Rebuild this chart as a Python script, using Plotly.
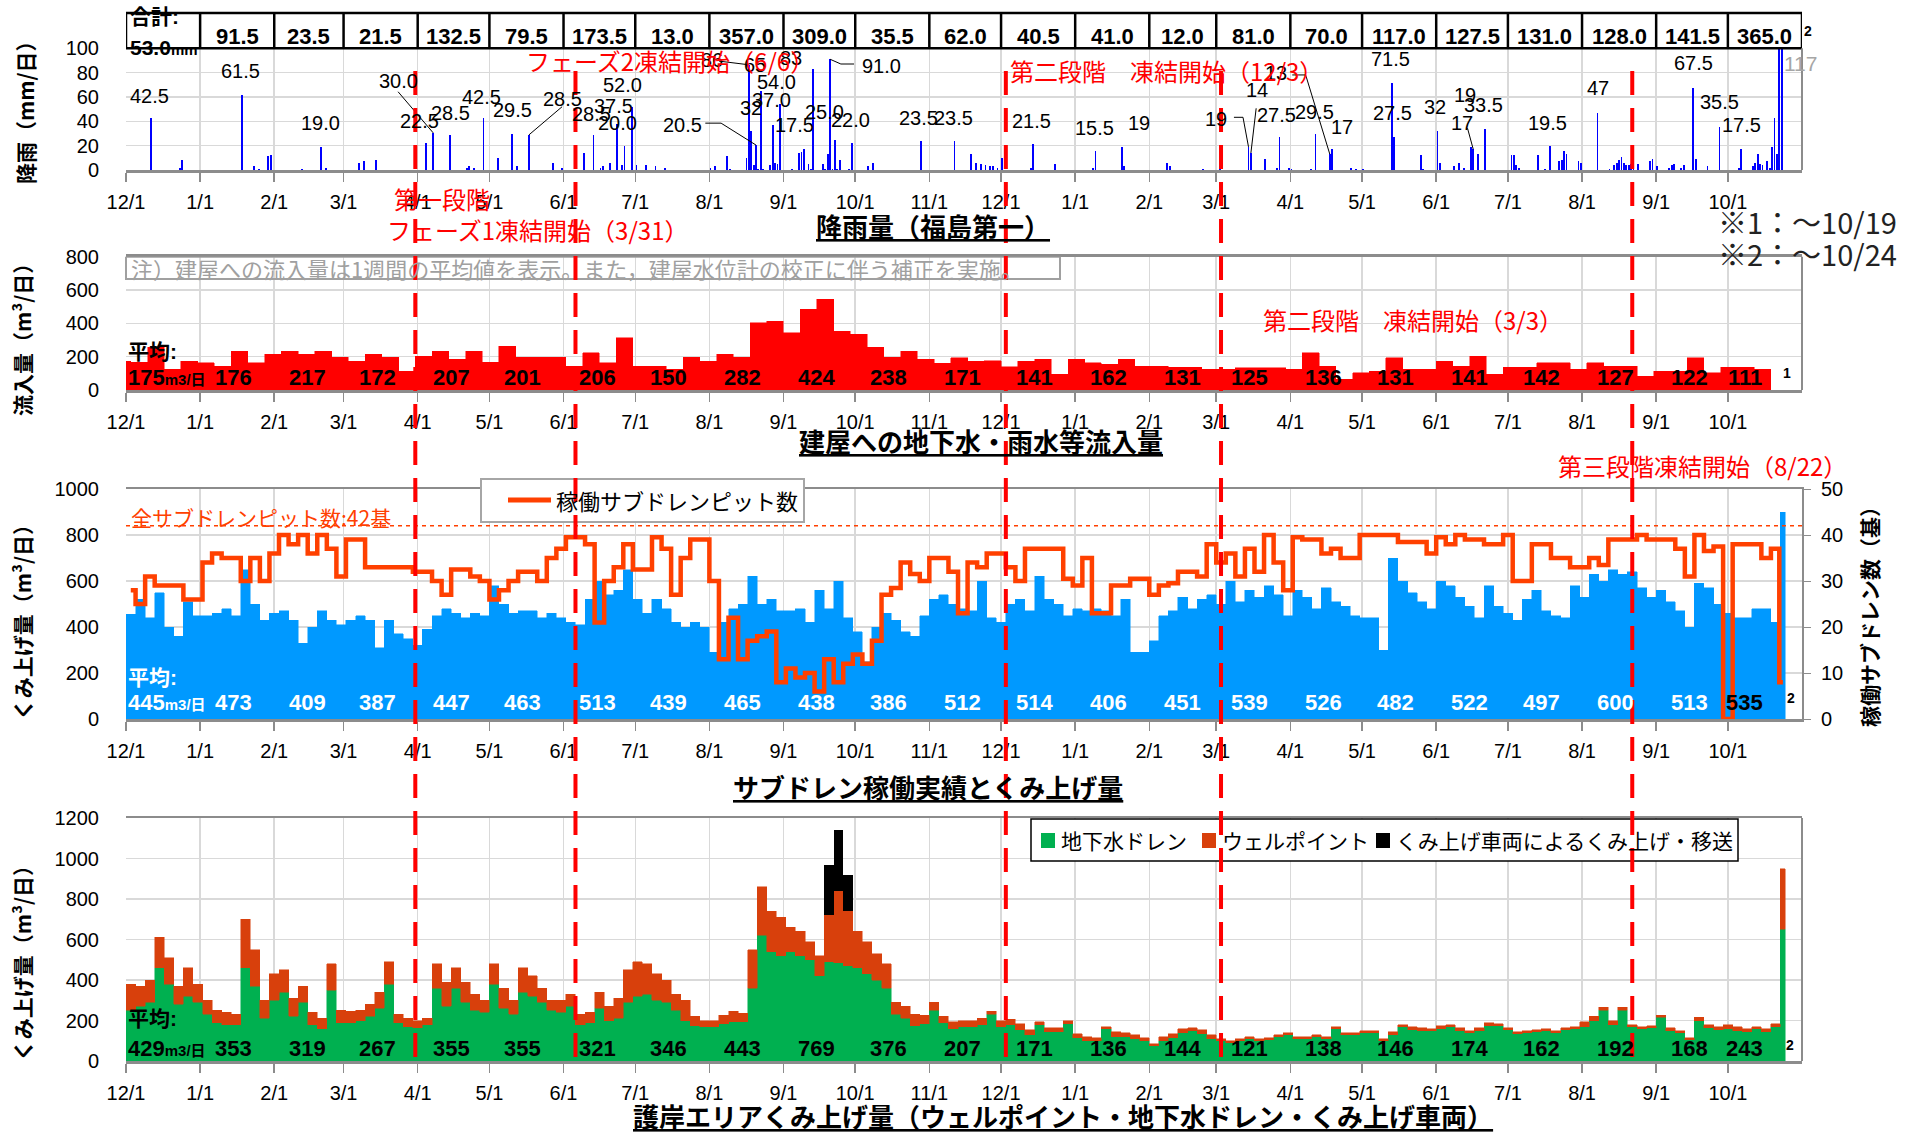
import pandas as pd
import plotly.graph_objects as go

W, H = 1923, 1135
DAY_MS = 86_400_000
JP = "Noto Sans CJK JP"
NUM = "Liberation Sans, Noto Sans CJK JP"
AXIS_START, AXIS_END = "2015-12-01", "2017-11-01"

# ---------------- daily rainfall, Fukushima Daiichi (mm/day) ----------------
rain_daily = [
    ("2015-12-11", 42.5), ("2015-12-23", 2), ("2015-12-24", 8),
    ("2016-01-18", 61.5), ("2016-01-23", 3.5), ("2016-01-25", 1), ("2016-01-29", 11.5), ("2016-01-30", 12.5),
    ("2016-02-12", 1), ("2016-02-20", 19.0), ("2016-02-22", 2),
    ("2016-03-07", 6), ("2016-03-09", 7.5), ("2016-03-14", 8),
    ("2016-04-04", 22.5), ("2016-04-07", 30.0), ("2016-04-14", 28.5), ("2016-04-21", 2), ("2016-04-22", 3),
    ("2016-04-24", 2), ("2016-04-28", 42.5),
    ("2016-05-04", 9.5), ("2016-05-10", 29.5), ("2016-05-12", 3), ("2016-05-17", 28.5), ("2016-05-27", 5.5),
    ("2016-05-31", 2),
    ("2016-06-09", 14), ("2016-06-13", 28.5), ("2016-06-16", 2), ("2016-06-17", 3), ("2016-06-20", 5.5),
    ("2016-06-23", 37.5), ("2016-06-25", 4), ("2016-06-26", 20.0), ("2016-06-29", 52.0),
    ("2016-07-01", 4), ("2016-07-05", 4), ("2016-07-09", 3), ("2016-07-13", 2),
    ("2016-08-01", 2), ("2016-08-03", 3), ("2016-08-08", 11.5), ("2016-08-09", 1), ("2016-08-16", 10),
    ("2016-08-17", 86), ("2016-08-18", 32), ("2016-08-19", 4), ("2016-08-20", 20.5), ("2016-08-21", 1),
    ("2016-08-22", 65), ("2016-08-23", 1), ("2016-08-26", 4), ("2016-08-27", 37.0), ("2016-08-28", 6),
    ("2016-08-29", 5), ("2016-08-30", 54.0),
    ("2016-09-04", 1), ("2016-09-07", 14), ("2016-09-08", 15), ("2016-09-09", 17.5), ("2016-09-11", 5),
    ("2016-09-12", 1), ("2016-09-13", 83), ("2016-09-17", 5), ("2016-09-18", 1), ("2016-09-19", 13),
    ("2016-09-20", 91.0), ("2016-09-21", 1), ("2016-09-22", 25.0), ("2016-09-23", 1), ("2016-09-24", 8),
    ("2016-09-28", 1), ("2016-09-29", 22.0),
    ("2016-10-06", 3), ("2016-10-08", 6), ("2016-10-28", 23.5),
    ("2016-11-11", 23.5), ("2016-11-18", 13.5), ("2016-11-20", 6), ("2016-11-22", 5), ("2016-11-24", 4),
    ("2016-11-26", 3), ("2016-11-27", 3), ("2016-11-29", 2),
    ("2016-12-01", 9.5), ("2016-12-13", 2), ("2016-12-14", 21.5), ("2016-12-23", 5),
    ("2017-01-08", 2), ("2017-01-09", 15.5), ("2017-01-20", 19), ("2017-01-21", 3),
    ("2017-02-08", 6), ("2017-02-09", 3), ("2017-02-23", 1),
    ("2017-03-02", 3), ("2017-03-14", 19), ("2017-03-15", 14), ("2017-03-21", 9), ("2017-03-26", 2),
    ("2017-03-27", 27.5), ("2017-03-31", 1.5),
    ("2017-04-01", 1), ("2017-04-09", 1), ("2017-04-11", 29.5), ("2017-04-17", 13), ("2017-04-18", 17),
    ("2017-04-26", 2), ("2017-04-28", 1),
    ("2017-05-01", 1), ("2017-05-13", 71.5), ("2017-05-14", 27.5), ("2017-05-25", 12), ("2017-05-26", 1),
    ("2017-06-01", 32), ("2017-06-02", 6), ("2017-06-08", 3), ("2017-06-10", 5.5), ("2017-06-12", 2),
    ("2017-06-15", 19), ("2017-06-16", 17), ("2017-06-18", 13.5), ("2017-06-21", 33.5),
    ("2017-07-02", 12), ("2017-07-03", 12), ("2017-07-04", 4), ("2017-07-05", 2), ("2017-07-13", 12),
    ("2017-07-16", 1), ("2017-07-18", 19.5), ("2017-07-22", 7), ("2017-07-23", 8), ("2017-07-24", 16),
    ("2017-07-25", 13), ("2017-07-30", 7), ("2017-07-31", 6),
    ("2017-08-07", 47), ("2017-08-12", 1), ("2017-08-14", 4), ("2017-08-15", 6), ("2017-08-16", 8),
    ("2017-08-17", 11), ("2017-08-18", 6), ("2017-08-19", 4), ("2017-08-20", 4), ("2017-08-21", 5),
    ("2017-08-22", 5), ("2017-08-24", 5), ("2017-08-29", 7), ("2017-08-30", 9),
    ("2017-09-01", 3.5), ("2017-09-06", 2), ("2017-09-07", 4), ("2017-09-08", 5), ("2017-09-11", 2),
    ("2017-09-12", 4.5), ("2017-09-16", 67.5), ("2017-09-17", 9), ("2017-09-22", 3.5), ("2017-09-27", 35.5),
    ("2017-10-05", 1.5), ("2017-10-06", 17.5), ("2017-10-11", 3), ("2017-10-12", 5.5), ("2017-10-13", 13),
    ("2017-10-14", 5), ("2017-10-15", 4), ("2017-10-17", 7), ("2017-10-18", 2), ("2017-10-19", 19),
    ("2017-10-20", 43), ("2017-10-21", 13), ("2017-10-22", 117), ("2017-10-23", 105),
]
rain_dates = [d for d, _ in rain_daily]
rain_mm = [v for _, v in rain_daily]

# monthly rainfall totals (Dec 2015 .. Oct 2017)
rain_month_total = [53.0, 91.5, 23.5, 21.5, 132.5, 79.5, 173.5, 13.0, 357.0, 309.0, 35.5, 62.0,
                    40.5, 41.0, 12.0, 81.0, 70.0, 117.0, 127.5, 131.0, 128.0, 141.5, 365.0]

# ---------------- weekly inflow into buildings (m3/day), weeks from 2015-11-26 ----------------
inflow_week_start = "2015-11-26"
inflow_weekly = [174, 166, 256, 126, 174, 164, 144, 234, 164, 214, 234, 214, 234, 196, 174, 214, 196, 114,
                 204, 234, 186, 234, 166, 264, 196, 196, 196, 144, 224, 164, 314, 144, 144, 126, 196, 174,
                 214, 196, 404, 414, 344, 484, 544, 354, 334, 256, 196, 234, 186, 160,
                 194, 174, 176, 140, 174, 184, 96, 184, 164, 154, 184, 144, 144, 136, 136, 124, 124, 134,
                 134, 134, 124, 224, 144, 64, 104, 114, 194, 124, 124, 174, 144, 204, 96, 136, 136, 164,
                 164, 124, 164, 144, 144, 84, 114, 114, 194, 104, 136, 136, 124]
inflow_month_avg = [175, 176, 217, 172, 207, 201, 206, 150, 282, 424, 238, 171,
                    141, 162, 131, 125, 136, 131, 141, 142, 127, 122, 111]

# ---------------- 4-day values from 2015-12-01 ----------------
step_start = "2015-12-01"
subdrain_pumped = [455, 520, 440, 550, 400, 360, 510, 450,
                   450, 460, 480, 450, 650, 500, 430, 460,
                   470, 430, 330, 400, 470, 430, 410,
                   430, 450, 430, 310, 430, 370, 350, 320,
                   390, 450, 480, 460, 440, 460, 450,
                   580, 500, 460, 470, 470, 440, 460, 440,
                   420, 410, 520, 600, 540, 560, 650, 520,
                   460, 520, 480, 420, 400, 420, 400,
                   290, 420, 480, 500, 620, 500, 520, 470,
                   470, 480, 420, 560, 480, 600, 440, 380,
                   250, 400, 460, 430, 380, 360, 450,
                   520, 540, 500, 480, 470, 600, 440, 420,
                   500, 520, 470, 620, 520, 500, 450, 480,
                   470, 480, 470, 450, 520, 290, 290,
                   340, 450, 470, 530, 480, 520, 540,
                   500, 600, 510, 560, 530, 580, 540, 450,
                   560, 530, 480, 570, 510, 490, 450, 440,
                   440, 300, 700, 600, 550, 510, 480,
                   600, 580, 530, 490, 440, 580, 490, 460,
                   430, 520, 560, 470, 450, 440, 580, 530,
                   630, 600, 650, 630, 640, 570, 530,
                   560, 510, 470, 400, 590, 570, 500, 460,
                   440, 440, 480, 480, 420, 900]
subdrain_pits = [28, 25, 31, 29, 29, 29, 26, 26,
                 34, 36, 35, 35, 30, 35, 30, 36,
                 40, 38, 40, 36, 40, 37, 31,
                 39, 39, 33, 33, 33, 33, 33, 32,
                 32, 30, 27, 32.5, 32.5, 31, 30,
                 26, 28, 30, 32, 32, 30, 35, 37,
                 39.5, 39.5, 38, 21, 30, 33, 38, 32.5,
                 32.5, 39.5, 37, 27, 35, 39, 39,
                 30, 13, 22, 13, 17, 18, 19, 8,
                 11, 9, 10, 6, 13, 8, 12, 14,
                 12, 17, 27, 28.5, 34, 31.5, 30,
                 35, 35, 32, 23, 34, 33, 36, 36,
                 33, 30, 37, 37, 37, 37, 30.5, 29,
                 35, 23, 23, 29, 29, 30.5, 30.5,
                 27, 29, 29.5, 32, 32, 31, 38,
                 34, 36, 31, 37, 32, 40, 34, 28,
                 39.5, 39, 39, 36, 37, 35, 35, 40,
                 40, 40, 40, 38.5, 38.5, 38.5, 36,
                 39.5, 38, 40, 39, 39, 38, 38, 40,
                 30, 30, 38, 38, 35, 35, 33, 33,
                 35, 33.5, 39, 39, 39, 40, 39,
                 39, 39, 37, 31, 40, 36.5, 37.5, 0,
                 38, 38, 38, 35, 37, 8]
subdrain_month_avg = [445, 473, 409, 387, 447, 463, 513, 439, 465, 438, 386, 512,
                      514, 406, 451, 539, 526, 482, 522, 497, 600, 513, 535]
total_pits = 42

drain_pumped = [250, 270, 290, 460, 380, 280, 320, 290,
                230, 190, 180, 180, 460, 370, 210, 300,
                340, 220, 290, 180, 160, 350, 190,
                190, 200, 220, 260, 380, 190, 170, 165,
                180, 360, 270, 360, 290, 250, 240,
                380, 260, 230, 340, 320, 290, 250, 240,
                270, 180, 190, 260, 200, 210, 290, 320,
                330, 300, 290, 250, 200, 175, 170,
                170, 185, 195, 195, 360, 620, 540, 520,
                540, 520, 500, 420, 490, 485, 470, 460,
                430, 400, 360, 230, 210, 175, 185,
                250, 190, 160, 170, 170, 180, 230, 170,
                180, 155, 130, 180, 145, 145, 185, 115,
                100, 100, 160, 120, 120, 110, 100,
                75, 100, 115, 140, 150, 135, 110,
                100, 90, 100, 110, 100, 105, 120, 130,
                110, 110, 120, 110, 160, 130, 130, 140,
                140, 100, 130, 170, 155, 150, 150,
                160, 170, 150, 140, 150, 175, 175, 155,
                135, 140, 145, 150, 140, 155, 160, 170,
                200, 250, 180, 250, 170, 160, 165,
                215, 150, 140, 105, 200, 165, 155, 160,
                150, 145, 160, 145, 170, 650]
wellpoint_pumped = [130, 100, 110, 150, 130, 90, 140, 90,
                    70, 60, 60, 50, 240, 180, 90, 130,
                    110, 90, 80, 60, 50, 130, 60,
                    55, 50, 60, 80, 110, 40, 40, 35,
                    30, 120, 120, 100, 100, 80, 60,
                    100, 100, 70, 120, 100, 70, 50, 60,
                    60, 50, 50, 80, 70, 100, 160, 170,
                    150, 130, 110, 80, 100, 45, 30,
                    30, 40, 50, 40, 190, 240, 200, 190,
                    120, 120, 90, 100, 230, 355, 270, 180,
                    160, 130, 120, 60, 60, 55, 40,
                    40, 30, 35, 30, 30, 30, 15, 30,
                    25, 30, 25, 15, 20, 20, 15, 20,
                    20, 15, 10, 25, 20, 20, 15,
                    10, 20, 20, 20, 15, 20, 20,
                    10, 10, 10, 10, 10, 10, 10, 10,
                    10, 10, 10, 10, 10, 10, 10, 10,
                    10, 10, 15, 10, 15, 15, 10,
                    15, 10, 15, 10, 15, 15, 10, 10,
                    10, 10, 10, 10, 10, 10, 10, 25,
                    20, 15, 20, 15, 10, 10, 10,
                    10, 15, 10, 10, 15, 15, 15, 20,
                    20, 15, 10, 15, 15, 300]
truck_dates = ["2016-09-18", "2016-09-22", "2016-09-26"]
truck_pumped = [250, 300, 180]
seawall_month_avg = [429, 353, 319, 267, 355, 355, 321, 346, 443, 769, 376, 207,
                     171, 136, 144, 121, 138, 146, 174, 162, 192, 168, 243]

freeze_dates = ["2016-03-31", "2016-06-06", "2016-12-03", "2017-03-03", "2017-08-22"]

# ---------------- derived positions ----------------
base = pd.Timestamp(AXIS_START)
months = pd.date_range(AXIS_START, "2017-10-01", freq="MS")
month_edges = pd.date_range(AXIS_START, AXIS_END, freq="MS")
tick_text = [f"{d.month}/1" for d in months]

rain_x = pd.to_datetime(rain_dates) + pd.Timedelta(hours=12)
inflow_x = pd.date_range(inflow_week_start, periods=len(inflow_weekly), freq="7D") + pd.Timedelta(days=3.5)
n_step = len(subdrain_pumped)
step_starts = pd.date_range(step_start, periods=n_step, freq="4D")
step_days = [4] * (n_step - 1) + [2]
step_x = [s + pd.Timedelta(days=w / 2) for s, w in zip(step_starts, step_days)]
step_w = [w * DAY_MS for w in step_days]
truck_x = pd.to_datetime(truck_dates) + pd.Timedelta(days=2)


def py(p):
    return 1 - p / H


def pxx(p):
    return p / W


X0, X1 = 126, 1802
XDOM = [pxx(X0), pxx(X1)]

fig = go.Figure()

# rainfall
fig.add_trace(go.Bar(x=rain_x, y=rain_mm, width=0.75 * DAY_MS, marker=dict(color="#0000FF", line_width=0),
                     xaxis="x", yaxis="y", showlegend=False, hoverinfo="skip"))
# inflow
fig.add_trace(go.Bar(x=inflow_x, y=inflow_weekly, width=7 * DAY_MS,
                     marker=dict(color="#FF0000", line=dict(color="#FF0000", width=0.5)),
                     xaxis="x2", yaxis="y2", showlegend=False, hoverinfo="skip"))
# subdrain pumping and active pits
fig.add_trace(go.Bar(x=step_x, y=subdrain_pumped, width=step_w,
                     marker=dict(color="#0099FF", line=dict(color="#0099FF", width=0.5)),
                     xaxis="x3", yaxis="y3", showlegend=False, hoverinfo="skip"))
fig.add_trace(go.Scatter(x=step_x, y=subdrain_pits, mode="lines",
                         line=dict(color="#FF4000", width=4.5, shape="hvh"),
                         xaxis="x3", yaxis="y5", showlegend=False, hoverinfo="skip"))
# seawall area pumping (stacked)
fig.add_trace(go.Bar(x=step_x, y=drain_pumped, width=step_w,
                     marker=dict(color="#00B050", line=dict(color="#00B050", width=0.5)),
                     xaxis="x4", yaxis="y4", showlegend=False, hoverinfo="skip"))
fig.add_trace(go.Bar(x=step_x, y=wellpoint_pumped, width=step_w,
                     marker=dict(color="#D8400C", line=dict(color="#D8400C", width=0.5)),
                     xaxis="x4", yaxis="y4", showlegend=False, hoverinfo="skip"))
fig.add_trace(go.Bar(x=truck_x, y=truck_pumped, width=4 * DAY_MS,
                     marker=dict(color="#000000", line_width=0),
                     xaxis="x4", yaxis="y4", showlegend=False, hoverinfo="skip"))

# rainfall value labels: (bar date, decimals, label centre in days from axis start, label height)
rain_labels = [
    ("2015-12-11", 1, 9.9, 61), ("2016-01-18", 1, 48, 81.6), ("2016-02-20", 1, 81.3, 38.4),
    ("2016-04-07", 1, 114, 73.4), ("2016-04-04", 1, 122.7, 40.5), ("2016-04-14", 1, 135.8, 47),
    ("2016-04-28", 1, 148.8, 60), ("2016-05-10", 1, 161.5, 49), ("2016-05-17", 1, 182.4, 58),
    ("2016-06-13", 1, 194.5, 45.8), ("2016-06-23", 1, 203.9, 52.6), ("2016-06-29", 1, 207.6, 69.8),
    ("2016-06-26", 1, 205.7, 38.4), ("2016-08-20", 1, 232.8, 37), ("2016-08-17", 0, 245, 90.4),
    ("2016-08-22", 0, 263, 86.3), ("2016-08-18", 0, 261.4, 50.7), ("2016-08-30", 1, 271.9, 72.6),
    ("2016-08-27", 1, 269.8, 57.5), ("2016-09-09", 1, 279.6, 37), ("2016-09-13", 0, 278.2, 91.8),
    ("2016-09-22", 1, 292.1, 47.9), ("2016-09-29", 1, 303.2, 41.1), ("2016-09-20", 1, 315.8, 85.5),
    ("2016-10-28", 1, 331.6, 42.5), ("2016-11-11", 1, 346.2, 42.5), ("2016-12-14", 1, 378.9, 40.5),
    ("2017-01-09", 1, 405, 34.2), ("2017-01-20", 0, 423.6, 38.4), ("2017-03-14", 0, 455.8, 41.6),
    ("2017-03-15", 0, 473.2, 65.7), ("2017-03-27", 1, 481.4, 45.2), ("2017-04-17", 0, 480.8, 79.5),
    ("2017-04-11", 1, 496.9, 47.9), ("2017-04-18", 0, 508.6, 35.1), ("2017-05-13", 1, 528.7, 91),
    ("2017-05-14", 1, 529.8, 46.6), ("2017-06-01", 0, 547.7, 52), ("2017-06-15", 0, 560, 61.6),
    ("2017-06-16", 0, 558.8, 38.4), ("2017-06-21", 1, 567.7, 53.4), ("2017-07-18", 1, 594.7, 38.4),
    ("2017-08-07", 0, 615.7, 67.1), ("2017-09-16", 1, 655.5, 87.7), ("2017-09-27", 1, 666.5, 55.6),
    ("2017-10-06", 1, 675.7, 37),
]
rain_leaders = [
    [(113.8, 64.3), (128.5, 30.5)],
    [(182.4, 52), (168.5, 28.8)],
    [(242.3, 38.5), (248.9, 38.5), (263.5, 20.5)],
    [(248, 89.5), (260.3, 86.5)],
    [(294.5, 91), (299, 87.1), (304.5, 87.1)],
    [(463.4, 43.3), (467.2, 43.3), (469.5, 19)],
    [(472.7, 50.7), (470.5, 14)],
    [(487.8, 78.1), (493.4, 78.1), (503.5, 13)],
    [(561.1, 34.3), (563.5, 17)],
]
lx, ly = [], []
for seg in rain_leaders:
    for d, v in seg:
        lx.append(base + pd.Timedelta(days=d))
        ly.append(v)
    lx.append(None)
    ly.append(None)
fig.add_trace(go.Scatter(x=lx, y=ly, mode="lines", line=dict(color="black", width=1),
                         xaxis="x", yaxis="y", showlegend=False, hoverinfo="skip"))

rain_lookup = dict(rain_daily)
ann = []


def add_text(text, x, y, size=20, color="black", family=NUM, xref="paper", yref="paper",
             xanchor="center", yanchor="middle", angle=0):
    ann.append(dict(text=text, x=x, y=y, xref=xref, yref=yref, xanchor=xanchor, yanchor=yanchor,
                    showarrow=False, textangle=angle, font=dict(size=size, color=color, family=family)))


for date, dec, day, yv in rain_labels:
    add_text(f"{rain_lookup[date]:.{dec}f}", base + pd.Timedelta(days=day), yv, size=20, xref="x", yref="y")
add_text(f"{rain_lookup['2017-10-22']:.0f}", base + pd.Timedelta(days=700.4), 87.7, size=21,
         color="#a6a6a6", xref="x", yref="y")

# monthly rainfall table above the rain panel
shapes = []
shapes.append(dict(type="rect", xref="x", yref="paper", x0=month_edges[0], x1=month_edges[-1],
                   y0=py(48.3), y1=py(13), line=dict(color="black", width=2.5), layer="above"))
for e in month_edges[1:-1]:
    shapes.append(dict(type="line", xref="x", yref="paper", x0=e, x1=e, y0=py(48.3), y1=py(13),
                       line=dict(color="black", width=2.5), layer="above"))
for i, v in enumerate(rain_month_total):
    mid = month_edges[i] + (month_edges[i + 1] - month_edges[i]) / 2
    if i == 0:
        add_text("<b>合計:</b>", month_edges[0] + pd.Timedelta(days=0.8), py(17), size=21, xref="x",
                 xanchor="left")
        add_text(f"<b>{v:.1f}<span style='font-size:15px'>mm</span></b>",
                 month_edges[0] + pd.Timedelta(days=0.8), py(47), size=21, xref="x", xanchor="left")
    else:
        add_text(f"<b>{v:.1f}</b>", mid, py(36), size=22, xref="x")
add_text("<b>2</b>", pxx(1808), py(31), size=14)

# monthly average labels
month_starts = pd.date_range(AXIS_START, periods=23, freq="MS")


def avg_labels(values, y_avg, y_word, color_main, color_last="black"):
    add_text("<b>平均:</b>", month_starts[0], py(y_word), size=21, color=color_main, xref="x", xanchor="left")
    for i, v in enumerate(values):
        if i == 0:
            add_text(f"<b>{v}<span style='font-size:15px'>m3/日</span></b>", month_starts[0], py(y_avg),
                     size=22, color=color_main, xref="x", xanchor="left")
            continue
        if i == len(values) - 1:
            xpos, col = pd.Timestamp("2017-10-08"), color_last
        else:
            xpos, col = month_starts[i] + pd.Timedelta(days=14), color_main
        add_text(f"<b>{v}</b>", xpos, py(y_avg), size=22, color=col, xref="x")


avg_labels(inflow_month_avg, 378, 352, "black")
add_text("<b>1</b>", pxx(1787), py(373), size=14)
avg_labels(subdrain_month_avg, 702, 677, "white", "black")
add_text("<b>2</b>", pxx(1791), py(698), size=14)
avg_labels(seawall_month_avg, 1048, 1018, "black")
add_text("<b>2</b>", pxx(1790), py(1045), size=14)

# panel titles
for txt, cx, cy in [("降雨量（福島第一）", 933, 226), ("建屋への地下水・雨水等流入量", 981, 440),
                    ("サブドレン稼働実績とくみ上げ量", 928, 786),
                    ("護岸エリアくみ上げ量（ウェルポイント・地下水ドレン・くみ上げ車両）", 1063, 1115)]:
    add_text(f"<b><u>{txt}</u></b>", pxx(cx), py(cy), size=26, family=JP)

# axis titles
for txt, cx, cy in [("降雨（mm/日）", 25, 107), ("流入量（m³/日）", 22, 335), ("くみ上げ量（m³/日）", 22, 617),
                    ("くみ上げ量（m³/日）", 22, 958), ("稼働サブドレン数（基）", 1869, 612)]:
    add_text(f"<b>{txt}</b>", pxx(cx), py(cy), size=21, family=JP, angle=-90)

# notes
add_text("※1：～10/19", pxx(1807), py(221), size=29, color="#222222", family=JP)
add_text("※2：～10/24", pxx(1807), py(253), size=29, color="#222222", family=JP)
add_text("注）建屋への流入量は1週間の平均値を表示。また，建屋水位計の校正に伴う補正を実施。",
         0.002, 732, size=22, color="#a0a0a0", family=JP, xref="x2 domain", yref="y2", xanchor="left")
shapes.append(dict(type="rect", xref="x2 domain", yref="y2", x0=0, x1=(1060 - X0) / (X1 - X0), y0=666, y1=800,
                   line=dict(color="#a0a0a0", width=2)))
add_text(f"全サブドレンピット数:{total_pits}基", pxx(261), py(517), size=21, color="#FF4000", family=JP)
shapes.append(dict(type="line", xref="x3 domain", yref="y5", x0=0, x1=1, y0=total_pits, y1=total_pits,
                   line=dict(color="#FF4000", width=1.5, dash="4px,4px")))

# right-hand frame edges
for xr, yr in [("x", "y"), ("x2", "y2"), ("x4", "y4")]:
    shapes.append(dict(type="line", xref=f"{xr} domain", yref=f"{yr} domain", x0=1, x1=1, y0=0, y1=1,
                       line=dict(color="#8c8c8c", width=2)))

# legends
shapes.append(dict(type="rect", xref="paper", yref="paper", x0=pxx(481), x1=pxx(804), y0=py(522), y1=py(479),
                   fillcolor="white", line=dict(color="#a6a6a6", width=2), layer="above"))
shapes.append(dict(type="line", xref="paper", yref="paper", x0=pxx(508), x1=pxx(551), y0=py(500), y1=py(500),
                   line=dict(color="#FF4000", width=5), layer="above"))
add_text("稼働サブドレンピット数", pxx(554), py(500), size=22, family=JP, xanchor="left")

shapes.append(dict(type="rect", xref="paper", yref="paper", x0=pxx(1031), x1=pxx(1738), y0=py(861), y1=py(819),
                   fillcolor="white", line=dict(color="black", width=1.5), layer="above"))
for (x0, col, txt) in [(1041, "#00B050", "地下水ドレン"), (1202, "#D8400C", "ウェルポイント"),
                       (1376, "#000000", "くみ上げ車両によるくみ上げ・移送")]:
    shapes.append(dict(type="rect", xref="paper", yref="paper", x0=pxx(x0), x1=pxx(x0 + 14),
                       y0=py(848), y1=py(833), fillcolor=col, line_width=0, layer="above"))
    add_text(txt, pxx(x0 + 18), py(840), size=21, family=JP, xanchor="left")

# freezing milestones
for d in freeze_dates:
    shapes.append(dict(type="line", xref="x", yref="paper", x0=d, x1=d, y0=py(1057), y1=py(61),
                       line=dict(color="#FF0000", width=4, dash="24px,13px"), layer="above"))
for txt, cx, cy in [("第一段階", 442, 198), ("フェーズ1凍結開始（3/31）", 538, 229),
                    ("フェーズ2凍結開始（6/6）", 670, 61), ("第二段階　凍結開始（12/3）", 1166, 70),
                    ("第二段階　凍結開始（3/3）", 1413, 320), ("第三段階凍結開始（8/22）", 1702, 465)]:
    add_text(txt, pxx(cx), py(cy), size=24, color="#FF0000", family=JP)


def xaxis(anchor, mirror):
    return dict(type="date", range=[AXIS_START, AXIS_END], domain=XDOM, anchor=anchor,
                tickmode="array", tickvals=list(months), ticktext=tick_text,
                ticks="outside", ticklen=9, tickwidth=1.5, tickcolor="#8c8c8c",
                showline=True, linecolor="#8c8c8c", linewidth=2.5, mirror=mirror,
                showgrid=True, gridcolor="#d9d9d9", gridwidth=1.5, zeroline=False,
                tickfont=dict(family=NUM, size=20, color="black"), ticklabelstandoff=3,
                automargin=False, fixedrange=True)


def yaxis(top, bottom, rng, dtick, anchor):
    return dict(domain=[py(bottom), py(top)], range=rng, dtick=dtick, tick0=0, anchor=anchor,
                showgrid=True, gridcolor="#d9d9d9", gridwidth=1.5, zeroline=False, showline=False,
                ticks="", tickfont=dict(family=NUM, size=20, color="black"), ticklabelstandoff=26,
                automargin=False, fixedrange=True)


fig.update_layout(
    template="none",
    width=W, height=H, autosize=False,
    margin=dict(l=0, r=0, t=0, b=0),
    paper_bgcolor="white", plot_bgcolor="white",
    font=dict(family=NUM, color="black"),
    barmode="stack", bargap=0, showlegend=False,
    xaxis=xaxis("y", False), yaxis=yaxis(48.3, 170, [0, 100], 20, "x"),
    xaxis2=xaxis("y2", True), yaxis2=yaxis(256.7, 390, [0, 800], 200, "x2"),
    xaxis3=xaxis("y3", True), yaxis3=yaxis(489, 719, [0, 1000], 200, "x3"),
    xaxis4=xaxis("y4", True), yaxis4=yaxis(818, 1061, [0, 1200], 200, "x4"),
    yaxis5=dict(overlaying="y3", anchor="x3", side="right", range=[0, 50], dtick=10, tick0=0,
                showgrid=False, zeroline=False, showline=True, linecolor="#8c8c8c", linewidth=2,
                ticks="outside", ticklen=7, tickcolor="#8c8c8c",
                tickfont=dict(family=NUM, size=20, color="black"), ticklabelstandoff=6,
                automargin=False, fixedrange=True),
    shapes=shapes,
    annotations=ann,
)

fig.write_html("out.html", include_plotlyjs=True, config={"displayModeBar": False, "staticPlot": True})
